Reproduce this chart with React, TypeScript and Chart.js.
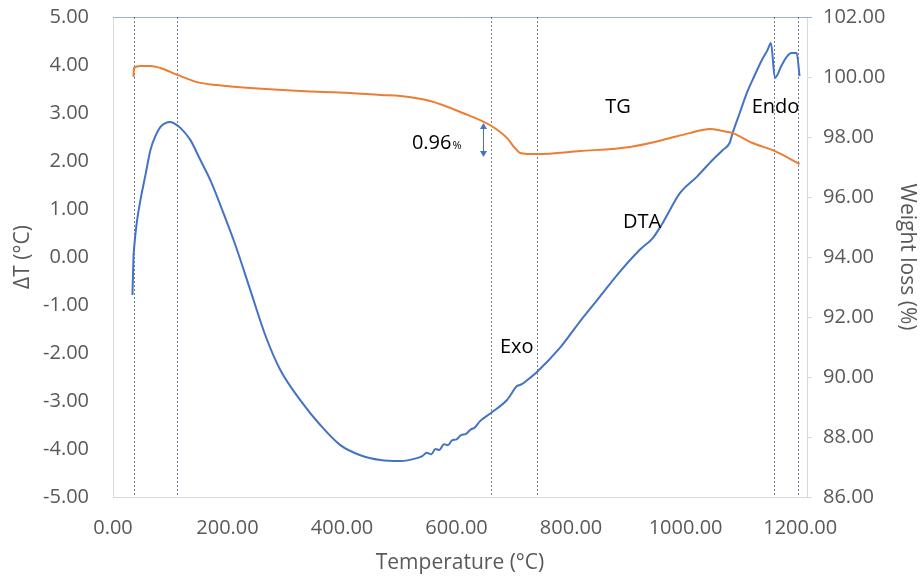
import { useEffect, useRef } from "react";
import { Chart, registerables } from "chart.js";

Chart.register(...registerables);

// DTA curve (left axis, ΔT in °C)
const dtaTemp = [34, 35.8, 36.6, 41, 48, 56.7, 65.4, 74, 82.9, 91.6, 100.3, 109, 117.7, 135, 152.6, 170, 187.5, 213.7, 239.8, 266, 292, 327, 362, 397, 432, 467, 502, 531, 540, 548, 556, 563, 570, 578, 585, 592, 600, 608, 616, 624, 632, 641, 660, 688, 705.6, 714, 728, 740, 780, 815, 850, 885, 920, 943, 960, 990, 1019.5, 1047, 1065, 1077, 1082, 1094.5, 1107, 1117, 1133, 1143, 1149, 1156, 1168, 1176.5, 1185, 1194, 1199];
const dtaValues = [-0.79, 0.0, 0.15, 0.67, 1.19, 1.71, 2.23, 2.52, 2.71, 2.79, 2.81, 2.77, 2.69, 2.44, 2.02, 1.6, 1.08, 0.25, -0.69, -1.63, -2.35, -2.98, -3.5, -3.92, -4.13, -4.23, -4.25, -4.19, -4.15, -4.08, -4.11, -4.0, -4.02, -3.9, -3.92, -3.82, -3.8, -3.71, -3.69, -3.6, -3.55, -3.42, -3.25, -2.98, -2.69, -2.65, -2.52, -2.4, -1.9, -1.35, -0.83, -0.31, 0.15, 0.4, 0.71, 1.33, 1.67, 2.02, 2.23, 2.38, 2.58, 3.0, 3.42, 3.69, 4.1, 4.31, 4.46, 3.73, 4.0, 4.17, 4.25, 4.25, 3.77];

// TG curve (right axis, weight %)
const tgTemp = [35.8, 36.6, 48, 65.4, 82.9, 112.5, 147, 182, 240, 327, 414, 467, 502, 554, 611, 658, 688, 702, 711, 740, 815.5, 903, 960, 1007, 1042, 1065, 1082, 1117, 1156, 1199];
const tgValues = [100.0, 100.3, 100.37, 100.37, 100.3, 100.07, 99.83, 99.73, 99.63, 99.53, 99.47, 99.4, 99.37, 99.2, 98.8, 98.4, 97.97, 97.63, 97.47, 97.43, 97.53, 97.67, 97.9, 98.13, 98.27, 98.2, 98.13, 97.8, 97.53, 97.1];

// axis ticks
const xTicks = [0, 200, 400, 600, 800, 1000, 1200];
const dtTicks = [-5, -4, -3, -2, -1, 0, 1, 2, 3, 4, 5];
const wTicks = [86, 88, 90, 92, 94, 96, 98, 100, 102];

// dotted vertical marker temperatures
const markerTemps = [36, 112, 660, 740, 1155, 1197];

// text labels in DTA coordinates
const labelTexts = ["TG", "Endo", "DTA", "Exo"];
const labelTemps = [882, 1157, 924, 705];
const labelDT = [3.12, 3.12, 0.73, -1.88];

// mass loss annotation
const lossText = "0.96";
const lossTemp = 522;
const lossDT = 2.4;
const arrowTemp = 646;
const arrowTop = 98.47;
const arrowBottom = 97.33;

const FONT = "'Open Sans', 'Liberation Sans', sans-serif";
const TICK_COLOR = "#595959";

const overlay = {
  id: "overlay",
  beforeDatasetsDraw(chart: any) {
    const { ctx, chartArea } = chart;
    const xs = chart.scales.x;
    ctx.save();
    ctx.strokeStyle = "#9DB0CC";
    ctx.lineWidth = 1;
    ctx.beginPath();
    ctx.moveTo(chartArea.left, chartArea.top + 0.5);
    ctx.lineTo(chartArea.right + 5, chartArea.top + 0.5);
    ctx.stroke();
    ctx.strokeStyle = "#6E7F9A";
    ctx.setLineDash([2, 2]);
    for (const t of markerTemps) {
      const px = Math.round(xs.getPixelForValue(t)) + 0.5;
      ctx.beginPath();
      ctx.moveTo(px, chartArea.top);
      ctx.lineTo(px, chartArea.bottom);
      ctx.stroke();
    }
    ctx.restore();
  },
  afterDatasetsDraw(chart: any) {
    const { ctx } = chart;
    const xs = chart.scales.x;
    const ys = chart.scales.y;
    const y2 = chart.scales.y2;
    ctx.save();
    ctx.fillStyle = "#000000";
    ctx.font = `20px ${FONT}`;
    ctx.textAlign = "center";
    ctx.textBaseline = "middle";
    labelTexts.forEach((t, i) => {
      ctx.fillText(t, xs.getPixelForValue(labelTemps[i]), ys.getPixelForValue(labelDT[i]));
    });
    ctx.textAlign = "left";
    ctx.textBaseline = "alphabetic";
    const lx = xs.getPixelForValue(lossTemp);
    const ly = ys.getPixelForValue(lossDT) + 7;
    ctx.font = `20px ${FONT}`;
    ctx.fillText(lossText, lx, ly);
    const w = ctx.measureText(lossText).width;
    ctx.font = `11px ${FONT}`;
    ctx.fillText("%", lx + w + 1, ly);
    const ax = Math.round(xs.getPixelForValue(arrowTemp)) + 0.5;
    const a1 = y2.getPixelForValue(arrowTop);
    const a2 = y2.getPixelForValue(arrowBottom);
    ctx.strokeStyle = "#4472C4";
    ctx.fillStyle = "#4472C4";
    ctx.lineWidth = 1;
    ctx.beginPath();
    ctx.moveTo(ax, a1 + 4);
    ctx.lineTo(ax, a2 - 4);
    ctx.stroke();
    ctx.beginPath();
    ctx.moveTo(ax, a1);
    ctx.lineTo(ax - 3.5, a1 + 6);
    ctx.lineTo(ax + 3.5, a1 + 6);
    ctx.closePath();
    ctx.fill();
    ctx.beginPath();
    ctx.moveTo(ax, a2);
    ctx.lineTo(ax - 3.5, a2 - 6);
    ctx.lineTo(ax + 3.5, a2 - 6);
    ctx.closePath();
    ctx.fill();
    ctx.restore();
  },
};

export default function App() {
  const ref = useRef<HTMLCanvasElement | null>(null);
  useEffect(() => {
    if (!ref.current) return;
    const dta = dtaTemp.map((t, i) => ({ x: t, y: dtaValues[i] }));
    const tg = tgTemp.map((t, i) => ({ x: t, y: tgValues[i] }));
    const chart = new Chart(ref.current, {
      type: "scatter",
      data: {
        datasets: [
          {
            label: "TG",
            data: tg,
            yAxisID: "y2",
            showLine: true,
            borderColor: "#ED7D31",
            backgroundColor: "#ED7D31",
            borderWidth: 2,
            pointRadius: 0,
            cubicInterpolationMode: "monotone",
          },
          {
            label: "DTA",
            data: dta,
            yAxisID: "y",
            showLine: true,
            borderColor: "#4472C4",
            backgroundColor: "#4472C4",
            borderWidth: 2,
            pointRadius: 0,
            cubicInterpolationMode: "monotone",
          },
        ],
      },
      options: {
        responsive: false,
        animation: false,
        layout: { padding: { top: 17, left: 0, right: 0, bottom: 0 } },
        plugins: { legend: { display: false }, tooltip: { enabled: false } },
        scales: {
          x: {
            type: "linear",
            min: 0,
            max: 1212,
            afterBuildTicks: (s: any) => {
              s.ticks = xTicks.map((v) => ({ value: v }));
            },
            afterFit: (s: any) => {
              s.height = 80;
              s.paddingLeft = 0;
              s.paddingRight = 0;
            },
            ticks: {
              autoSkip: false,
              maxRotation: 0,
              minRotation: 0,
              padding: 11,
              color: TICK_COLOR,
              font: { family: FONT, size: 20 },
              callback: (v: any) => Number(v).toFixed(2),
            },
            grid: { display: false },
            border: { display: true, color: "#D9D9D9", width: 1 },
            title: {
              display: true,
              text: "Temperature (°C)",
              color: TICK_COLOR,
              font: { family: FONT, size: 21 },
              padding: { top: 0, bottom: 1 },
            },
          },
          y: {
            position: "left",
            min: -5,
            max: 5,
            afterBuildTicks: (s: any) => {
              s.ticks = dtTicks.map((v) => ({ value: v }));
            },
            afterFit: (s: any) => {
              s.width = 113;
              s.paddingTop = 0;
              s.paddingBottom = 0;
            },
            ticks: {
              autoSkip: false,
              padding: 24,
              color: TICK_COLOR,
              font: { family: FONT, size: 20 },
              callback: (v: any) => Number(v).toFixed(2),
            },
            grid: { display: false, drawTicks: false },
            border: { display: true, color: "#D9D9D9", width: 1 },
            title: {
              display: true,
              text: "ΔT (°C)",
              color: TICK_COLOR,
              font: { family: FONT, size: 21 },
              padding: { top: 10, bottom: 0 },
            },
          },
          y2: {
            position: "right",
            min: 86,
            max: 102,
            afterBuildTicks: (s: any) => {
              s.ticks = wTicks.map((v) => ({ value: v }));
            },
            afterFit: (s: any) => {
              s.width = 113;
              s.paddingTop = 0;
              s.paddingBottom = 0;
            },
            ticks: {
              autoSkip: false,
              padding: 11,
              color: TICK_COLOR,
              font: { family: FONT, size: 20 },
              callback: (v: any) => Number(v).toFixed(2),
            },
            grid: {
              display: true,
              drawOnChartArea: false,
              drawTicks: true,
              tickLength: 5,
              color: "#D9D9D9",
            },
            border: { display: true, color: "#D9D9D9", width: 1 },
            title: {
              display: true,
              text: "Weight loss (%)",
              color: TICK_COLOR,
              font: { family: FONT, size: 21 },
              padding: { top: 0, bottom: 0 },
            },
          },
        },
      },
      plugins: [overlay],
    } as any);
    return () => chart.destroy();
  }, []);
  return (
    <div style={{ position: "fixed", left: 0, top: 0, width: 920, height: 577, background: "#fff" }}>
      <canvas ref={ref} width={920} height={577} style={{ display: "block" }} />
    </div>
  );
}
